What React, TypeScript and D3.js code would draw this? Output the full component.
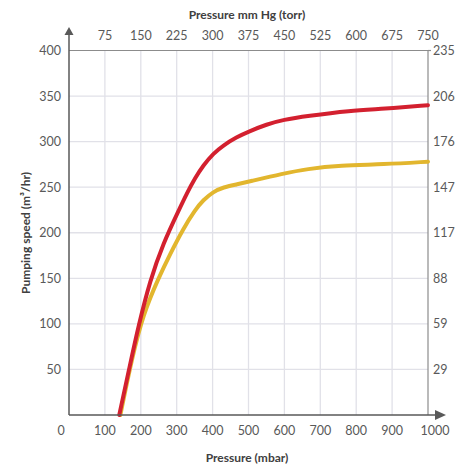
import React from "react";
import * as d3 from "d3";

const pressureTicks = [0, 100, 200, 300, 400, 500, 600, 700, 800, 900, 1000];
const torrLabels = ["75", "150", "225", "300", "375", "450", "525", "600", "675", "750"];
const speedTicks = [50, 100, 150, 200, 250, 300, 350, 400];
const cfmLabels = ["29", "59", "88", "117", "147", "176", "206", "235"];

const redPressure = [140, 170, 193, 226, 263, 305, 328, 351, 374, 402, 430, 467, 500, 551, 597, 662, 783, 876, 1000];
const redSpeed = [0, 55, 97, 148, 189, 224, 243, 260, 274, 287, 296, 305, 311, 319, 324, 328, 334, 336, 340];
const yellowPressure = [143, 175, 207, 249, 282, 319, 351, 374, 402, 430, 467, 500, 597, 662, 756, 876, 1000];
const yellowSpeed = [0, 62, 111, 150, 177, 205, 225, 236, 245, 250, 253, 256, 265, 270, 274, 275, 278];

export default function App() {
  const W = 459, H = 467;
  const left = 69, right = 428, top = 50.5, bottom = 415;
  const x = d3.scaleLinear().domain([0, 1000]).range([left, right]);
  const y = d3.scaleLinear().domain([0, 400]).range([bottom, top]);
  const line = d3.line<[number, number]>().x(d => x(d[0])).y(d => y(d[1])).curve(d3.curveBasis);
  const red = redPressure.map((p, i) => [p, redSpeed[i]] as [number, number]);
  const yel = yellowPressure.map((p, i) => [p, yellowSpeed[i]] as [number, number]);
  const font = "Lato, 'Open Sans', sans-serif";
  const txt = "#595959";
  return (
    <svg width={W} height={H} style={{ position: "absolute", left: 0, top: 0, background: "#fff" }} fontFamily={font}>
      {pressureTicks.filter(v => v > 0 && v < 1000).map(v => (
        <line key={"vx" + v} x1={x(v)} x2={x(v)} y1={top} y2={bottom} stroke="#e1e1e8" strokeWidth={1.3} />
      ))}
      {speedTicks.filter(v => v < 400).map(v => (
        <line key={"hy" + v} x1={left} x2={right} y1={y(v)} y2={y(v)} stroke="#e1e1e8" strokeWidth={1.3} />
      ))}
      <line x1={left} x2={right} y1={top} y2={top} stroke="#8c8c8c" strokeWidth={1.2} />
      <line x1={right} x2={right + 3} y1={top} y2={top} stroke="#8c8c8c" strokeWidth={1.2} />
      <line x1={right} x2={right} y1={top} y2={bottom} stroke="#8c8c8c" strokeWidth={1.2} />
      <path d={line(yel) || ""} fill="none" stroke="#e2b62e" strokeWidth={4} strokeLinecap="round" />
      <path d={line(red) || ""} fill="none" stroke="#d3202f" strokeWidth={4} strokeLinecap="round" />
      <line x1={left} x2={left} y1={bottom} y2={34} stroke="#595959" strokeWidth={1.5} />
      <path d={`M${left - 4.5},${35} L${left},${27} L${left + 4.5},${35} Z`} fill="#595959" />
      <line x1={left} x2={436} y1={bottom} y2={bottom} stroke="#595959" strokeWidth={1.5} />
      <path d={`M${435},${bottom - 5} L${446},${bottom} L${435},${bottom + 5} Z`} fill="#595959" />
      {pressureTicks.map(v => (
        <text key={"bx" + v} x={x(v) + (v === 0 ? -8 : v === 1000 ? 7 : 0)} y={435} textAnchor="middle" fontSize={12.5} fill={txt}>{v}</text>
      ))}
      {torrLabels.map((t, i) => (
        <text key={"tx" + t} x={x(pressureTicks[i + 1])} y={40} textAnchor="middle" fontSize={12.5} fill={txt}>{t}</text>
      ))}
      {speedTicks.map(v => (
        <text key={"ly" + v} x={61} y={y(v) + 4.5} textAnchor="end" fontSize={12.5} fill={txt}>{v}</text>
      ))}
      {cfmLabels.map((t, i) => (
        <text key={"ry" + t} x={433} y={y(speedTicks[i]) + 4.5} textAnchor="start" fontSize={12.5} fill={txt}>{t}</text>
      ))}
      <text x={247} y={19} textAnchor="middle" fontSize={12} fontWeight="bold" fill="#404040">Pressure mm Hg (torr)</text>
      <text x={247} y={462} textAnchor="middle" fontSize={12} fontWeight="bold" fill="#404040">Pressure (mbar)</text>
      <text transform="translate(30,233) rotate(-90)" textAnchor="middle" fontSize={12} fontWeight="bold" fill="#404040">Pumping speed (m³/hr)</text>
    </svg>
  );
}
